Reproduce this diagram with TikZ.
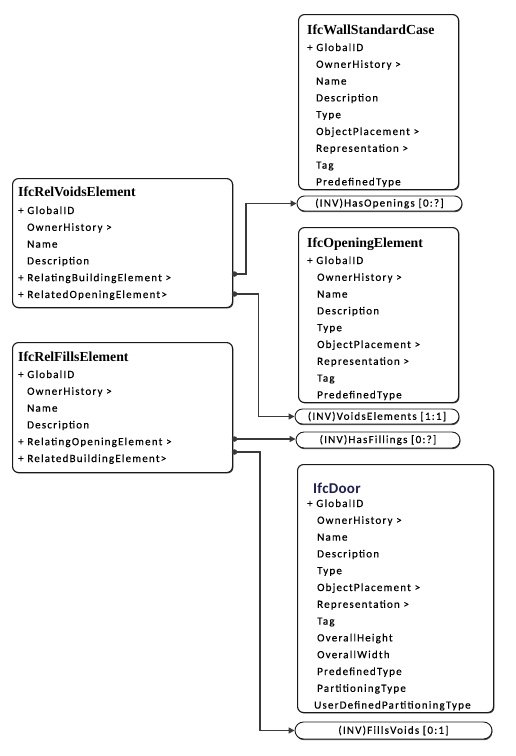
\documentclass[tikz,border=0pt]{standalone}
\usepackage{fontspec}
\setmainfont{Carlito}
\newfontfamily\rowfont[LetterSpace=11,FakeBold=0.4]{Carlito}
\newfontfamily\titlefont{Liberation Serif}
\newfontfamily\doorfont[LetterSpace=2]{Carlito}
\usetikzlibrary{arrows.meta,shadows}
\definecolor{doorblue}{HTML}{1E1E50}
\definecolor{linegray}{HTML}{3A3A3A}
\tikzset{
  umlbox/.style={draw=black!90, line width=1.1pt, rounded corners=6pt, fill=white,
    drop shadow={shadow xshift=0.9pt, shadow yshift=-0.9pt, fill=black!70, opacity=1},
    inner sep=0pt, anchor=north west},
  pill/.style={draw=black!90, line width=0.9pt, fill=white, inner sep=0pt,
    drop shadow={shadow xshift=0.5pt, shadow yshift=-1.2pt, fill=black!70, opacity=1},
    font=\rowfont\fontsize{11}{13}\selectfont},
  rowtext/.style={anchor=base west, inner sep=0pt, font=\rowfont\fontsize{11}{13}\selectfont},
  titletext/.style={anchor=base west, inner sep=0pt, font=\titlefont\bfseries\fontsize{13.8}{15}\selectfont},
  conn/.style={draw=linegray, line width=1.8pt, -{Triangle[length=6pt,width=6pt]}},
  dotpt/.style={circle, fill=linegray, inner sep=0pt, minimum size=5.5pt}
}
\begin{document}
\begin{tikzpicture}[x=1pt,y=-1pt]
\useasboundingbox (0,0) rectangle (516,756);
% boxes
\node[umlbox, minimum width=160pt, minimum height=175pt] (wall) at (298,14) {};
\node[umlbox, minimum width=220pt, minimum height=129pt] (rv) at (12,178) {};
\node[umlbox, minimum width=160pt, minimum height=175pt] (op) at (298,227) {};
\node[umlbox, minimum width=220pt, minimum height=130pt] (rf) at (12,342) {};
\node[umlbox, minimum width=196pt, minimum height=248pt] (door) at (297,464) {};
% pills
\node[pill, minimum width=165pt, minimum height=15pt, rounded corners=7.5pt] (hasop) at (379.5,203.5) {(INV)HasOpenings [0:?]};
\node[pill, minimum width=164pt, minimum height=15pt, rounded corners=7.5pt] (voids) at (377,416.5) {(INV)VoidsElements [1:1]};
\node[pill, minimum width=164pt, minimum height=16pt, rounded corners=8pt] (hasfill) at (378,440) {(INV)HasFillings [0:?]};
\node[pill, minimum width=197pt, minimum height=17pt, rounded corners=8.5pt] (fillsv) at (393.5,730.5) {(INV)FillsVoids [0:1]};
% titles
\node[titletext] (wall-t) at (307,34.5) {IfcWallStandardCase};
\node[titletext] (rv-t) at (18,196.5) {IfcRelVoidsElement};
\node[titletext] (op-t) at (307,247.5) {IfcOpeningElement};
\node[titletext] (rf-t) at (18,361.5) {IfcRelFillsElement};
\node[anchor=base west, inner sep=0pt, font=\doorfont\bfseries\fontsize{15}{17}\selectfont, text=doorblue] (door-t) at (313,493) {IfcDoor};
% rows
\foreach \xx/\t [count=\i] in {307/+ GlobalID, 316/OwnerHistory >, 316/Name, 316/Description, 316/Type, 316/ObjectPlacement >, 316/Representation >, 316/Tag, 316/PredefinedType}
  \node[rowtext] (wall-\i) at (\xx,{51+(\i-1)*16.8}) {\t};
\foreach \xx/\t [count=\i] in {18/+ GlobalID, 27/OwnerHistory >, 27/Name, 27/Description, 18/+ RelatingBuildingElement >, 18/+ RelatedOpeningElement>}
  \node[rowtext] (rv-\i) at (\xx,{214+(\i-1)*16.8}) {\t};
\foreach \xx/\t [count=\i] in {307/+ GlobalID, 317/OwnerHistory >, 317/Name, 317/Description, 317/Type, 317/ObjectPlacement >, 317/Representation >, 317/Tag, 317/PredefinedType}
  \node[rowtext] (op-\i) at (\xx,{264+(\i-1)*16.8}) {\t};
\foreach \xx/\t [count=\i] in {18/+ GlobalID, 27/OwnerHistory >, 27/Name, 27/Description, 18/+ RelatingOpeningElement >, 18/+ RelatedBuildingElement>}
  \node[rowtext] (rf-\i) at (\xx,{378+(\i-1)*16.8}) {\t};
\foreach \xx/\t [count=\i] in {307/+ GlobalID, 317/OwnerHistory >, 317/Name, 317/Description, 317/Type, 317/ObjectPlacement >, 317/Representation >, 317/Tag, 317/OverallHeight, 317/OverallWidth, 317/PredefinedType, 317/PartitioningType, 314/UserDefinedPartitioningType}
  \node[rowtext] (door-\i) at (\xx,{507+(\i-1)*16.8}) {\t};
% connector start points
\node[dotpt] (rvA) at (234.5,274) {};
\node[dotpt] (rvB) at (234.5,294) {};
\node[dotpt] (rfA) at (234.5,439) {};
\node[dotpt] (rfB) at (234.5,452) {};
% connectors
\draw[conn] (rvA.center) -- ++(11.5,0) |- (hasop.west);
\draw[conn] (rvB.center) -- ++(24,0) |- (voids.west);
\draw[conn] (rfA.center) -- (rfA.center -| hasfill.west);
\draw[conn] (rfB.center) -- ++(25.5,0) |- (fillsv.west);
\end{tikzpicture}
\end{document}
